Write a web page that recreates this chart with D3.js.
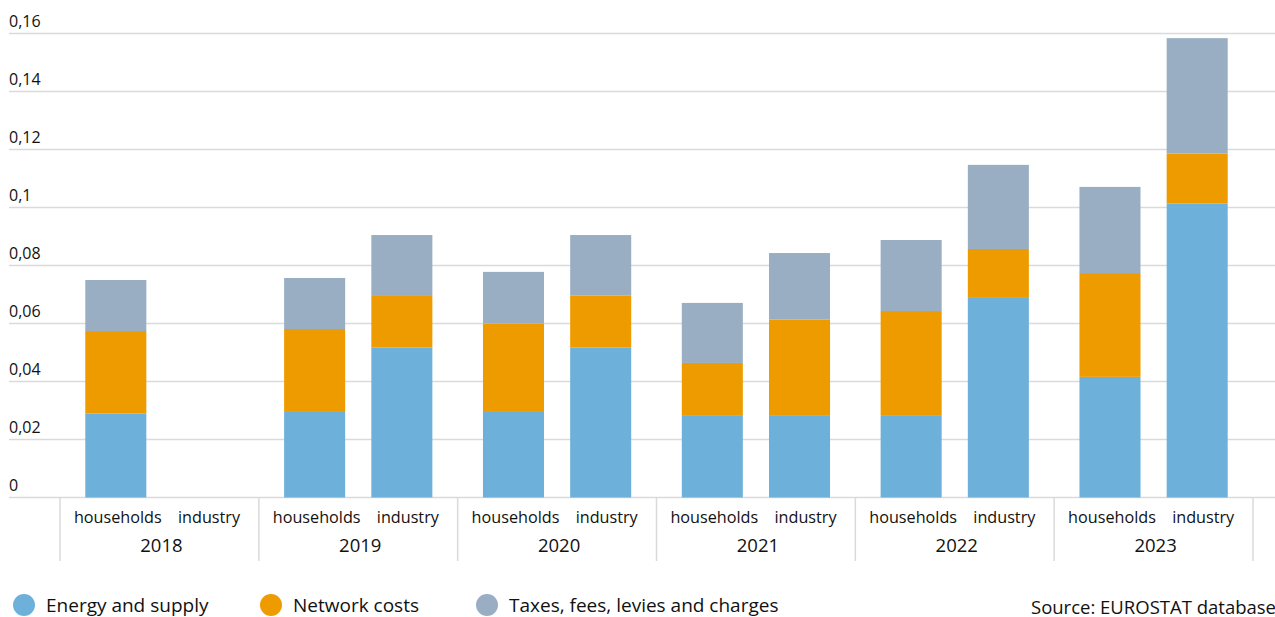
<!DOCTYPE html>
<html>
<head>
<meta charset="utf-8">
<script src="https://cdn.jsdelivr.net/npm/d3@7"></script>
<style>
  body { margin: 0; background: #fff; }
  text { font-family: "Open Sans", "Noto Sans", sans-serif; fill: #111; }
</style>
</head>
<body>
<div id="chart"></div>
<script>
const years = ["2018", "2019", "2020", "2021", "2022", "2023"];
const sectors = ["households", "industry"];
const yTicks = [0, 0.02, 0.04, 0.06, 0.08, 0.1, 0.12, 0.14, 0.16];

// one value per year x sector (households, industry), 2018 industry missing
const energy  = [0.0290, 0, 0.0298, 0.0517, 0.0298, 0.0517, 0.0284, 0.0284, 0.0284, 0.0691, 0.0416, 0.1014];
const network = [0.0284, 0, 0.0283, 0.0178, 0.0302, 0.0180, 0.0180, 0.0330, 0.0359, 0.0166, 0.0358, 0.0172];
const taxes   = [0.0176, 0, 0.0176, 0.0210, 0.0178, 0.0208, 0.0207, 0.0229, 0.0245, 0.0290, 0.0297, 0.0398];

const seriesNames = ["Energy and supply", "Network costs", "Taxes, fees, levies and charges"];
const colors = ["#6db1db", "#ee9b00", "#99aec3"];

const W = 1275, H = 617;
const svg = d3.select("#chart").append("svg").attr("width", W).attr("height", H);

const rows = [];
years.forEach((y, i) => {
  sectors.forEach((s, j) => {
    const k = i * 2 + j;
    rows.push({ year: y, sector: s, e: energy[k], n: network[k], t: taxes[k] });
  });
});

const stack = d3.stack().keys(["e", "n", "t"]);
const stacked = stack(rows);

const x0 = d3.scaleBand().domain(years).range([60, 1253]).padding(0);
const x1 = d3.scaleBand().domain(sectors).range([0, x0.bandwidth()]).paddingInner(0.3).paddingOuter(0.29);
const y = d3.scaleLinear().domain([0, 0.16]).range([497.5, 33.5]);

// gridlines
svg.append("g").selectAll("line").data(yTicks).enter().append("line")
  .attr("x1", 9).attr("x2", W)
  .attr("y1", d => y(d)).attr("y2", d => y(d))
  .attr("stroke", "#dadada").attr("stroke-width", 1.5);

svg.append("g").selectAll("text").data(yTicks).enter().append("text")
  .attr("x", 9).attr("y", d => y(d) - 7)
  .attr("font-size", 16)
  .text(d => d === 0 ? "0" : String(d).replace(".", ","));

// bars
svg.append("g").selectAll("g").data(stacked).enter().append("g")
  .attr("fill", (d, i) => colors[i])
  .selectAll("rect").data(d => d).enter().append("rect")
  .attr("x", d => x0(d.data.year) + x1(d.data.sector))
  .attr("width", x1.bandwidth())
  .attr("y", d => y(d[1]))
  .attr("height", d => y(d[0]) - y(d[1]));

// category axis separators
const seps = years.map(yr => x0(yr)).concat([x0.range()[1]]);
svg.append("g").selectAll("line").data(seps).enter().append("line")
  .attr("x1", d => d).attr("x2", d => d)
  .attr("y1", 498).attr("y2", 561)
  .attr("stroke", "#dadada").attr("stroke-width", 1.5);

svg.append("g").selectAll("text").data(rows).enter().append("text")
  .attr("x", d => x0(d.year) + x1(d.sector) + x1.bandwidth() / 2 + (d.sector === "industry" ? 6 : 2))
  .attr("y", 523)
  .attr("text-anchor", "middle")
  .attr("font-size", 16.2)
  .text(d => d.sector);

svg.append("g").selectAll("text").data(years).enter().append("text")
  .attr("x", d => x0(d) + x0.bandwidth() / 2 + 2)
  .attr("y", 552)
  .attr("text-anchor", "middle")
  .attr("font-size", 18.5)
  .text(d => d);

// legend
const legendX = [24, 271, 487];
const leg = svg.append("g").selectAll("g").data(seriesNames).enter().append("g")
  .attr("transform", (d, i) => `translate(${legendX[i]},605)`);
leg.append("circle").attr("r", 11).attr("fill", (d, i) => colors[i]);
leg.append("text").attr("x", 22).attr("y", 7).attr("font-size", 19).text(d => d);

svg.append("text").attr("x", 1031).attr("y", 614).attr("font-size", 18.5)
  .text("Source: EUROSTAT database");
</script>
</body>
</html>
